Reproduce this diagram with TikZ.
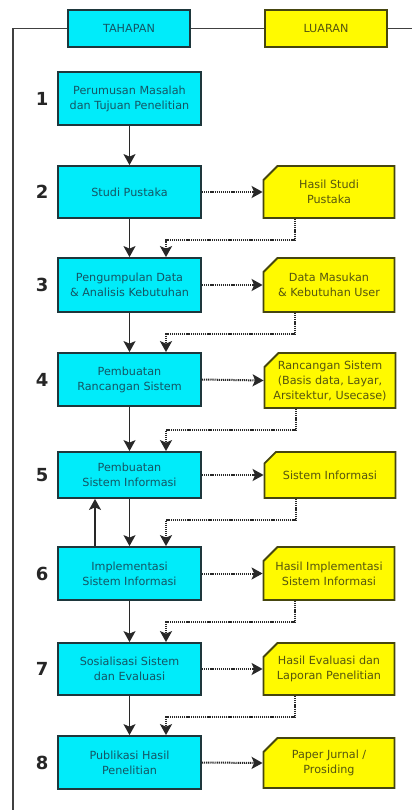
\documentclass[tikz,border=0pt]{standalone}
\usepackage{fontspec}
\setmainfont{DejaVu Sans}
\usetikzlibrary{arrows.meta,shapes.misc}

\definecolor{stagefill}{RGB}{0,236,250}
\definecolor{stageborder}{RGB}{30,55,60}
\definecolor{stagetext}{RGB}{20,85,100}
\definecolor{outfill}{RGB}{255,250,0}
\definecolor{outborder}{RGB}{70,70,15}
\definecolor{outtext}{RGB}{85,85,15}
\definecolor{wire}{RGB}{40,40,40}

\begin{document}
\begin{tikzpicture}[x=1pt, y=-1pt,
  font=\fontsize{11.2}{15}\selectfont,
  stagebox/.style={draw=stageborder, line width=1.8pt, fill=stagefill,
    text=stagetext, minimum width=143pt, minimum height=53pt,
    align=center, inner sep=0pt},
  outbox/.style={chamfered rectangle, chamfered rectangle corners=north west,
    chamfered rectangle xsep=7pt, chamfered rectangle ysep=7pt,
    draw=outborder, line width=1.8pt, fill=outfill, text=outtext,
    minimum width=131pt, minimum height=53pt, align=center, inner sep=0pt},
  headbox/.style={draw=stageborder, line width=1.8pt,
    minimum width=122pt, minimum height=37pt, inner sep=0pt},
  num/.style={font=\fontsize{18}{18}\selectfont\bfseries, text=black!85},
  flow/.style={draw=wire, line width=1.5pt, -{Stealth[length=11pt,width=12pt,inset=2.5pt]}},
  fb/.style={draw=wire, line width=2pt, dash pattern=on 1.2pt off 0.9pt,
    -{Stealth[length=11pt,width=12pt,inset=2.5pt]}},
  frame/.style={draw=black!75, line width=1.6pt}]

\useasboundingbox (0,0) rectangle (412,810);

% outer frame
\coordinate (fbot) at (13,810);
\coordinate (fcorner) at (13,28.5);
\coordinate (fright) at (412,28.5);
\draw[frame] (fbot) -- (fcorner) -- (fright);

% column headers
\node[headbox, fill=stagefill, text=stagetext] (tah) at (129,28.5) {TAHAPAN};
\node[headbox, fill=outfill, draw=outborder, text=outtext] (lua) at (326,28.5) {LUARAN};

% stages
\node[stagebox] (s1) at (129.5,98.5) {Perumusan Masalah\\dan Tujuan Penelitian};
\node[stagebox, minimum height=52pt] (s2) at (129.5,192) {Studi Pustaka};
\node[stagebox, minimum height=54pt] (s3) at (129.5,285) {Pengumpulan Data\\\& Analisis Kebutuhan};
\node[stagebox] (s4) at (129.5,379.5) {Pembuatan\\Rancangan Sistem};
\node[stagebox, minimum height=46pt] (s5) at (129.5,475) {Pembuatan\\Sistem Informasi};
\node[stagebox] (s6) at (129.5,573.5) {Implementasi\\Sistem Informasi};
\node[stagebox, minimum height=52pt] (s7) at (129.5,669) {Sosialisasi Sistem\\dan Evaluasi};
\node[stagebox] (s8) at (129.5,762.5) {Publikasi Hasil\\Penelitian};

% stage numbers
\foreach \i in {1,...,8}
  \node[num] (n\i) at ([xshift=-15pt]s\i.west) {\i};

% outputs
\node[outbox, minimum height=52pt] (o2) at (329,192) {Hasil Studi\\Pustaka};
\node[outbox, minimum height=54pt] (o3) at (329,285) {Data Masukan\\\& Kebutuhan User};
\node[outbox, minimum height=55pt] (o4) at (330,380.5) {Rancangan Sistem\\(Basis data, Layar,\\Arsitektur, Usecase)};
\node[outbox, minimum height=46pt] (o5) at (330,475) {Sistem Informasi};
\node[outbox] (o6) at (329,573.5) {Hasil Implementasi\\Sistem Informasi};
\node[outbox, minimum height=52pt] (o7) at (329,669) {Hasil Evaluasi dan\\Laporan Penelitian};
\node[outbox, minimum height=50pt] (o8) at (329,763) {Paper Jurnal /\\Prosiding};

% main flow
\draw[flow] (s1) -- (s2);
\draw[flow] (s2) -- (s3);
\draw[flow] (s3) -- (s4);
\draw[flow] (s4) -- (s5);
\draw[flow] (s5) -- (s6);
\draw[flow] (s6) -- (s7);
\draw[flow] (s7) -- (s8);

% loop back from implementation to development
\draw[flow] ([xshift=-34.5pt]s6.north) -- ([xshift=-34.5pt]s5.south);

% stage outputs
\foreach \i in {2,...,8}
  \draw[fb] (s\i.east) -- (o\i.west);

% outputs feeding the next stage
\foreach \i/\j in {2/3,3/4,4/5,5/6,6/7,7/8}
  \draw[fb] ([xshift=32pt]o\i.south west) -- ++(0,21) -| ([xshift=36.5pt]s\j.north);

\end{tikzpicture}
\end{document}
